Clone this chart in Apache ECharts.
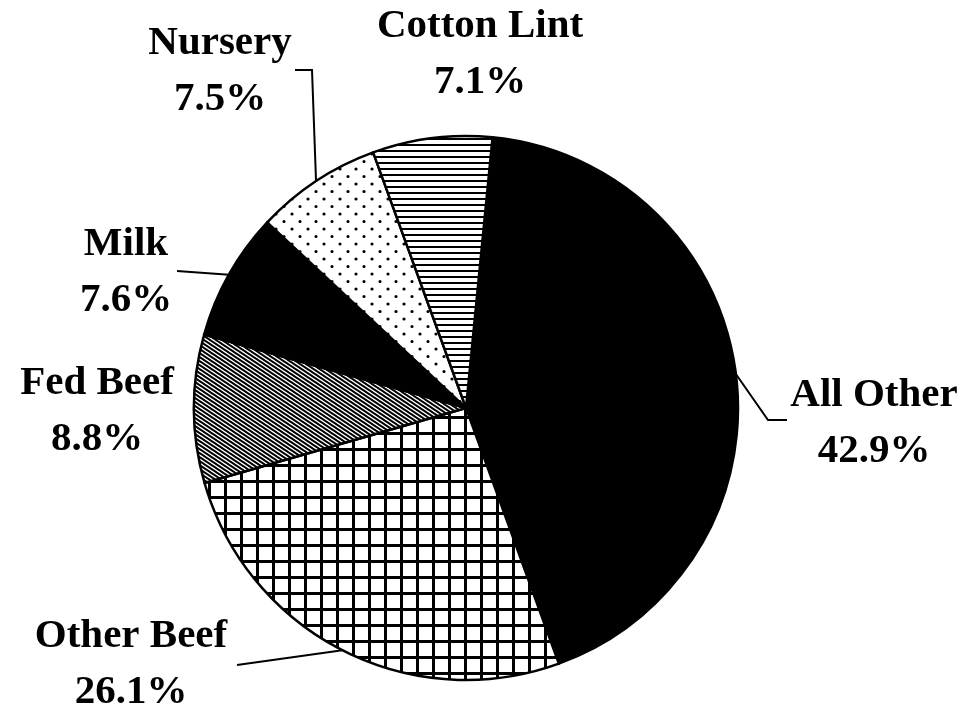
<!DOCTYPE html>
<html>
<head>
    <meta charset="utf-8">
    <title>Pie</title>
    <script src="https://cdn.jsdelivr.net/npm/echarts@6.0.0/dist/echarts.min.js"></script>
    <style>
        html, body { margin: 0; padding: 0; background: #fff; }
        #chart { width: 964px; height: 714px; }
    </style>
</head>
<body>
    <div id="chart"></div>
    <script>
        // data (percent of total)
        var names = ['All Other', 'Other Beef', 'Fed Beef', 'Milk', 'Nursery', 'Cotton Lint'];
        var shares = [42.9, 26.1, 8.8, 7.6, 7.5, 7.1];
        var fills = ['solid', 'grid', 'hatch', 'solid', 'dots', 'hlines'];

        // where each label block sits and how its leader line bends (page px)
        var labelAt = [[874, 423], [131, 664], [97, 411], [126, 272], [220, 71], [480, 54]];
        var leaderBends = [[[768, 420], [787, 420]], [[237, 665]], null, [[177, 271]], [[312, 70], [295, 70]], null];

        function tile(w, h, draw) {
            var c = document.createElement('canvas');
            c.width = w; c.height = h;
            var ctx = c.getContext('2d');
            ctx.fillStyle = '#fff';
            ctx.fillRect(0, 0, w, h);
            ctx.fillStyle = '#000';
            ctx.strokeStyle = '#000';
            draw(ctx, w, h);
            return { image: c, repeat: 'repeat' };
        }

        var patterns = {
            solid: '#000',
            grid: tile(16, 16, function (ctx) {
                ctx.fillRect(0, 0, 3, 16);
                ctx.fillRect(0, 0, 16, 3);
            }),
            hatch: tile(6, 4, function (ctx, w, h) {
                ctx.lineWidth = 1.9;
                ctx.beginPath();
                for (var k = -1; k <= 1; k++) {
                    ctx.moveTo(-w + k * w, -h);
                    ctx.lineTo(2 * w + k * w, 2 * h);
                }
                ctx.stroke();
            }),
            dots: tile(16, 15, function (ctx) {
                ctx.beginPath();
                ctx.arc(4, 4, 1.6, 0, Math.PI * 2);
                ctx.arc(12, 11.5, 1.6, 0, Math.PI * 2);
                ctx.fill();
            }),
            hlines: tile(8, 6, function (ctx) {
                ctx.fillRect(0, 0, 8, 2);
            })
        };

        var pieData = names.map(function (n, i) {
            return {
                name: n,
                value: shares[i],
                itemStyle: { color: patterns[fills[i]] },
                labelLine: { show: leaderBends[i] !== null }
            };
        });

        var chart = echarts.init(document.getElementById('chart'), null, { renderer: 'canvas' });

        var option = {
            backgroundColor: '#fff',
            animation: false,
            series: [{
                type: 'pie',
                center: [466, 408],
                radius: 272,
                startAngle: 84.4,
                clockwise: true,
                avoidLabelOverlap: false,
                data: pieData,
                itemStyle: { borderColor: '#000', borderWidth: 2.5 },
                label: {
                    show: true,
                    position: 'outside',
                    formatter: function (p) {
                        return p.name + '\n' + p.value.toFixed(1) + '%';
                    },
                    color: '#000',
                    fontFamily: 'Liberation Serif',
                    fontWeight: 'bold',
                    fontSize: 41,
                    lineHeight: 56,
                    align: 'center'
                },
                labelLine: {
                    show: true,
                    lineStyle: { color: '#000', width: 2 }
                },
                labelLayout: function (params) {
                    var i = params.dataIndex;
                    var res = {
                        x: labelAt[i][0],
                        y: labelAt[i][1],
                        align: 'center',
                        verticalAlign: 'middle',
                        hideOverlap: false
                    };
                    if (leaderBends[i] && params.labelLinePoints) {
                        res.labelLinePoints = [params.labelLinePoints[0]].concat(leaderBends[i]);
                    }
                    return res;
                },
                emphasis: { disabled: true }
            }]
        };
        chart.setOption(option);
    </script>
</body>
</html>
